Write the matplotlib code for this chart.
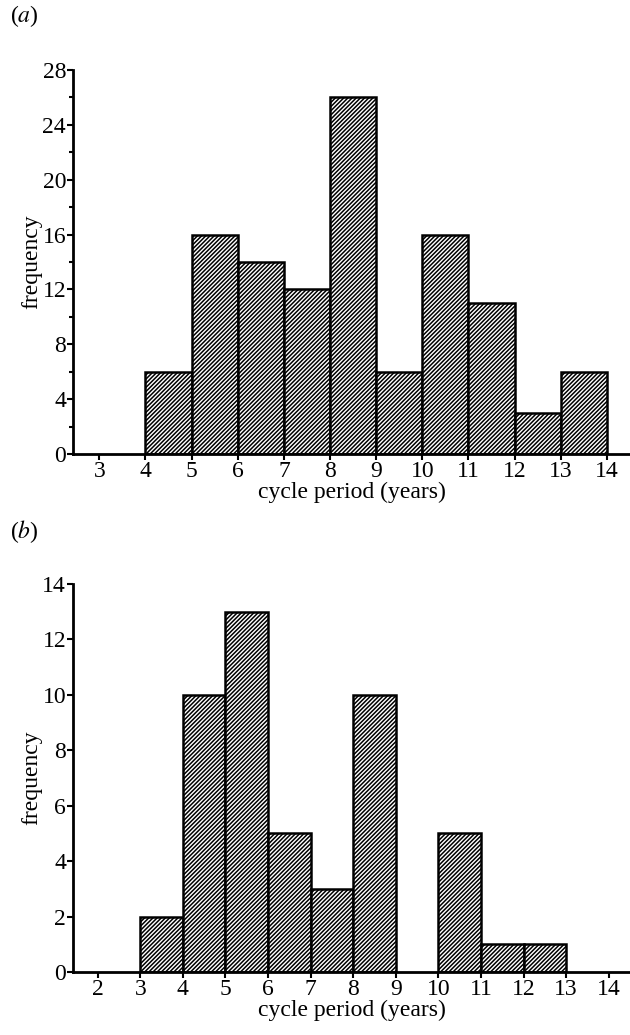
import numpy as np
import matplotlib
matplotlib.use("Agg")
import matplotlib.pyplot as plt

plt.rcParams["font.family"] = ["Liberation Serif", "DejaVu Serif"]
plt.rcParams["mathtext.fontset"] = "stix"
plt.rcParams["hatch.linewidth"] = 1.1

# panel (a): bin edges and counts
bins_a = [4, 5, 6, 7, 8, 9, 10, 11, 12, 13, 14]
counts_a = [6, 16, 14, 12, 26, 6, 16, 11, 3, 6]
xticks_a = list(range(3, 15))

# panel (b): bin edges and counts
bins_b = [3, 4, 5, 6, 7, 8, 9, 10, 11, 12, 13]
counts_b = [2, 10, 13, 5, 3, 10, 0, 5, 1, 1]
xticks_b = list(range(2, 15))

FS = 17

fig = plt.figure(figsize=(6.3, 10.35), dpi=100)
ax_a = fig.add_axes([73 / 630, 1 - 454 / 1035, 1 - 73 / 630, 384 / 1035])
ax_b = fig.add_axes([73 / 630, 1 - 972 / 1035, 1 - 73 / 630, 388 / 1035])


def draw_hist(ax, edges, counts, xticks, ymax, ystep, minor, xlim):
    left = np.array(edges[:-1])
    width = np.diff(edges)
    h = np.array(counts)
    keep = h > 0
    ax.bar(left[keep], h[keep], width=width[keep], align="edge",
           facecolor="white", edgecolor="black", linewidth=1.8, hatch="////////")
    ax.set_xlim(*xlim)
    ax.set_ylim(0, ymax)
    ax.set_xticks(xticks)
    ax.set_yticks(np.arange(0, ymax + 1, ystep))
    if minor:
        ax.set_yticks(np.arange(0, ymax + 1, ystep / 2), minor=True)
    for s in ["top", "right"]:
        ax.spines[s].set_visible(False)
    for s in ["left", "bottom"]:
        ax.spines[s].set_linewidth(2)
    ax.tick_params(axis="both", which="both", direction="out", width=1.5,
                   labelsize=FS, pad=1)
    ax.tick_params(axis="both", which="major", length=4)
    ax.tick_params(axis="y", which="minor", length=3)
    ax.set_xlabel("cycle period (years)", fontsize=FS, labelpad=0)
    ax.set_ylabel("frequency", fontsize=FS, labelpad=0)


draw_hist(ax_a, bins_a, counts_a, xticks_a, 28, 4, True, (2.43, 14.5))
draw_hist(ax_b, bins_b, counts_b, xticks_b, 14, 2, False, (1.42, 14.5))

fig.text(10 / 630, 1 - 16 / 1035, "($\\mathit{a}$)", fontsize=FS, va="center")
fig.text(10 / 630, 1 - 532 / 1035, "($\\mathit{b}$)", fontsize=FS, va="center")

fig.savefig("out.png", dpi=100)
